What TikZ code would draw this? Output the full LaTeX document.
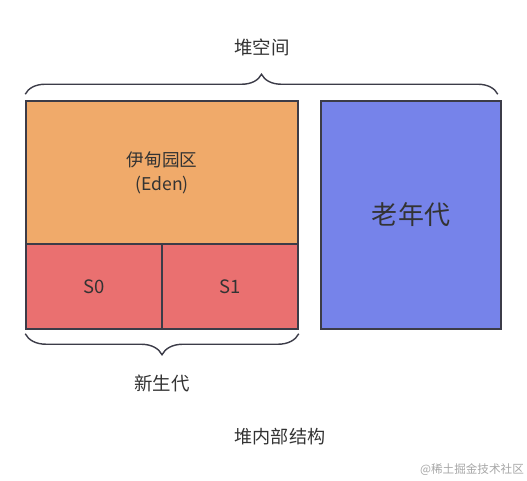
\documentclass[tikz,border=0pt]{standalone}
\usepackage{fontspec}
\usepackage{xcolor}
\usetikzlibrary{decorations.pathreplacing}
\newfontfamily\cjk{Noto Sans CJK SC}
\definecolor{edenfill}{RGB}{240,170,106}
\definecolor{survfill}{RGB}{234,112,112}
\definecolor{oldfill}{RGB}{118,131,234}
\definecolor{edge}{RGB}{60,60,72}
\definecolor{txt}{RGB}{51,51,51}

\begin{document}
\begin{tikzpicture}[font=\cjk, text=txt,
  area/.style={draw=edge, line width=0.85pt, inner sep=0pt},
  curly/.style={draw=edge, line width=0.8pt, decorate,
    decoration={brace, amplitude=0.4cm}}]
\useasboundingbox (0,0) rectangle (10.54,9.62);
\draw (3.24,6.17) node[area,fill=edenfill,minimum width=5.44cm,minimum height=2.86cm,align=center,font=\cjk\fontsize{10}{13.6}\selectfont](eden) {伊甸园区\\(Eden)};
\draw (1.88,3.89) node[area,fill=survfill,minimum width=2.72cm,minimum height=1.70cm,font=\cjk\fontsize{10.5}{12}\selectfont](szero) {S0};
\draw (4.60,3.89) node[area,fill=survfill,minimum width=2.72cm,minimum height=1.70cm,font=\cjk\fontsize{10.5}{12}\selectfont](sone) {S1};
\draw (8.22,5.32) node[area,fill=oldfill,minimum width=3.6cm,minimum height=4.56cm,font=\cjk\fontsize{14.8}{17}\selectfont](old) {老年代};
% braces
\draw[curly] ([yshift=0.12cm]eden.north west) -- ([xshift=-0.08cm,yshift=0.12cm]old.north east) coordinate[midway,yshift=0.4cm](heaptip);
\draw[curly,decoration={amplitude=0.42cm}] ([yshift=-0.08cm]sone.south east) -- ([yshift=-0.08cm]szero.south west) coordinate[midway,yshift=-0.42cm](youngtip);
\draw (5.24,8.68) node[font=\cjk\fontsize{10.5}{12}\selectfont](heap) {堆空间};
\draw (3.24,1.96) node[font=\cjk\fontsize{10.5}{12}\selectfont](young) {新生代};
\draw (5.60,0.88) node[font=\cjk\fontsize{10.3}{12}\selectfont](title) {堆内部结构};
\draw (9.44,0.22) node[font=\cjk\fontsize{6.6}{8}\selectfont,text=black!35](mark) {@稀土掘金技术社区};
\end{tikzpicture}
\end{document}
